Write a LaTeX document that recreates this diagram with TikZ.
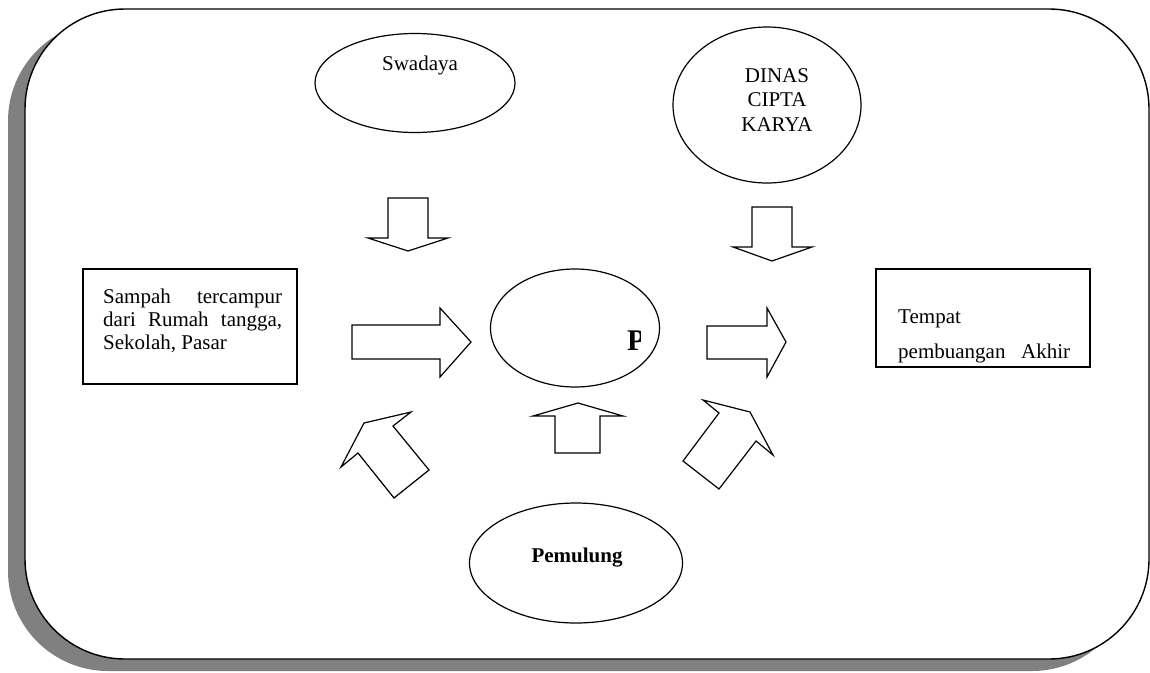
\documentclass[tikz,border=0pt]{standalone}
\usepackage{fontspec}
\setmainfont{Liberation Serif}
\tikzset{
  elips/.style={ellipse, draw, line width=1.2pt},
  kotak/.style={rectangle, draw, line width=1.2pt},
  blok/.style={draw, line width=1.2pt, fill=white, line join=miter},
  teks/.style={font=\fontsize{21}{23}\selectfont, inner sep=0pt}
}
\usetikzlibrary{shapes.geometric}
\begin{document}
\begin{tikzpicture}[x=1pt,y=-1pt]
        \useasboundingbox (0,0) rectangle (1150,672);
        % bingkai dengan bayangan
        \fill[black!50, rounded corners=100pt] (8,21) rectangle (1132,671);
        \draw[line width=1.4pt, fill=white, rounded corners=100pt] (25,9) rectangle (1149,659);

        \node[elips, minimum width=200pt, minimum height=99pt] (swadaya) at (415,83) {};
        \node[elips, minimum width=188pt, minimum height=156pt] (dinas) at (767,105) {};
        \node[elips, minimum width=169pt, minimum height=118pt] (pusat) at (575,328) {};
        \node[elips, minimum width=213pt, minimum height=120pt] (pemulung) at (576,563) {};
        \node[kotak, minimum width=214pt, minimum height=115pt] (sumber) at (190,326.5) {};
        \node[kotak, minimum width=214pt, minimum height=98pt] (tpa) at (983,318) {};

        \node[teks] (lblswadaya) at (420,65) {Swadaya};
        \node[teks, align=center, font=\fontsize{21}{24.5}\selectfont] (lbldinas) at (777,100) {DINAS\\CIPTA\\KARYA};
        \node[teks, font=\bfseries\fontsize{21}{23}\selectfont] (lblpemulung) at (577,558) {Pemulung};
        \node[teks, anchor=north west, text width=179pt, align=justify] (lblsumber) at (103,289)
            {Sampah tercampur\linebreak dari Rumah tangga,\linebreak Sekolah, Pasar};
        \node[teks, anchor=north west, text width=172pt, align=left] (lbltpa) at (898,310)
            {Tempat\\[12pt]pembuangan\hfill Akhir};
        \begin{scope}
            \clip (600,300) rectangle (640,370);
            \node[inner sep=0pt, anchor=base west, font=\bfseries\fontsize{30}{30}\selectfont] (lblp) at (627,350) {P};
        \end{scope}

        % panah blok
        \draw[blok] (388,198) -- (428,198) -- (428,238) -- (448,238) -- (408,251) -- (368,238) -- (388,238) -- cycle;
        \draw[blok] (752,207) -- (792,207) -- (792,247) -- (812,247) -- (772,261) -- (733,247) -- (752,247) -- cycle;
        \draw[blok] (352,325) -- (440,325) -- (440,308) -- (471,342) -- (440,377) -- (440,359) -- (352,359) -- cycle;
        \draw[blok] (707,326) -- (767,326) -- (767,308) -- (786,342) -- (767,377) -- (767,359) -- (707,359) -- cycle;
        \draw[blok] (555,453) -- (555,416) -- (533,416) -- (578,403) -- (623,416) -- (600,416) -- (600,453) -- cycle;
        \draw[blok] (341,467) -- (364,423) -- (411,412) -- (393,426) -- (429,470) -- (394,498) -- (358,453) -- cycle;
        \draw[blok] (703,400) -- (750,412) -- (773,455) -- (756,441) -- (719,489) -- (683,461) -- (719,413) -- cycle;

    \end{tikzpicture}
\end{document}
